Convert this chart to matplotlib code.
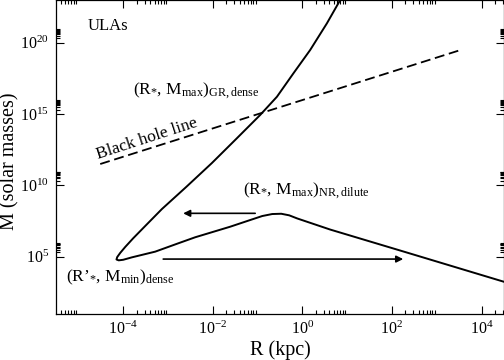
import matplotlib
matplotlib.use("Agg")
import matplotlib.pyplot as plt
from matplotlib.ticker import FixedLocator, LogFormatterSciNotation, NullFormatter

plt.rcParams['font.family'] = ['Liberation Serif', 'DejaVu Serif']
plt.rcParams['mathtext.fontset'] = 'custom'
plt.rcParams['mathtext.rm'] = 'Liberation Serif'
plt.rcParams['mathtext.it'] = 'Liberation Serif:italic'
plt.rcParams['mathtext.bf'] = 'Liberation Serif:bold'

# ---- data ----
# ULA mass-radius curve: dense GR branch (top -> turning point) then dilute branch
R_curve = [7.62, 3.52, 1.49, 0.632, 0.270, 0.114, 0.0333, 9.55e-3, 2.55e-3, 7.31e-4,
           3.10e-4, 1.67e-4, 1.11e-4, 8.57e-5, 7.35e-5, 7.08e-5, 7.94e-5, 1.00e-4,
           1.56e-4, 5.18e-4, 1.71e-3, 4.05e-3, 0.0244, 0.0684, 0.127, 0.212, 0.337,
           0.507, 0.766, 4.18, 152.0, 3.54e4]
M_curve = [1.62e23, 2.29e21, 3.09e19, 7.24e17, 1.62e16, 8.51e14, 1.78e13, 3.63e11, 7.59e9, 2.14e8,
           1.38e7, 1.90e6, 4.68e5, 1.78e5, 9.12e4, 6.17e4, 5.37e4, 5.89e4,
           8.71e4, 2.19e5, 8.51e5, 2.24e6, 1.23e7, 3.63e7, 6.92e7, 9.55e7, 1.00e8,
           7.76e7, 4.68e7, 7.76e6, 2.63e5, 1.51e3]

# Black hole line (M proportional to R)
bh_R = [3.07e-5, 3.01e3]
bh_M = [3.09e11, 2.75e19]

# Arrows: (start R, end R, M)
arrow_left = (0.0883, 2.18e-3, 1.07e8)
arrow_right = (7.82e-4, 178.0, 6.6e4)

x_major_exp = [-4, -2, 0, 2, 4]
x_minor_exp = [-6, -4, -2, 0, 2, 4]
y_major_exp = [5, 10, 15, 20]

# ---- figure ----
fig = plt.figure(figsize=(5.04, 3.6), dpi=100)
ax = fig.add_axes([56/504, 1 - 313.5/360, 448/504, 313.5/360])
ax.set_xscale('log')
ax.set_yscale('log')
ax.set_xlim(10**-5.5, 10**4.5)
ax.set_ylim(1e1, 1e23)

ax.plot(R_curve, M_curve, color='black', lw=1.4, solid_joinstyle='round')
ax.plot(bh_R, bh_M, color='black', lw=1.3, linestyle=(0, (5.5, 2.6)))

for (r0, r1, m) in (arrow_left, arrow_right):
    ax.annotate('', xy=(r1, m), xytext=(r0, m),
                arrowprops=dict(arrowstyle='-|>', color='black', lw=1.2,
                                mutation_scale=10, shrinkA=0, shrinkB=0))

# ticks
xmaj = [10.0**k for k in x_major_exp]
xmin = [m * 10.0**k for k in x_minor_exp for m in range(2, 10)
        if 10**-5.5 <= m * 10.0**k <= 10**4.5]
ymaj = [10.0**k for k in y_major_exp]
ymin = [m * 10.0**k for k in y_major_exp for m in range(2, 10)]
ax.xaxis.set_major_locator(FixedLocator(xmaj))
ax.xaxis.set_minor_locator(FixedLocator(xmin))
ax.yaxis.set_major_locator(FixedLocator(ymaj))
ax.yaxis.set_minor_locator(FixedLocator(ymin))
ax.xaxis.set_major_formatter(LogFormatterSciNotation())
ax.yaxis.set_major_formatter(LogFormatterSciNotation())
ax.xaxis.set_minor_formatter(NullFormatter())
ax.yaxis.set_minor_formatter(NullFormatter())
ax.tick_params(which='both', direction='in', top=True, right=True, width=0.8)
ax.tick_params(which='major', length=6, labelsize=11.5, pad=5)
ax.tick_params(which='minor', length=3)
for s in ax.spines.values():
    s.set_linewidth(0.9)

ax.set_xlabel('R (kpc)', fontsize=14.5)
ax.set_ylabel('M (solar masses)', fontsize=14.5)
ax.xaxis.set_label_coords(0.5, -0.085)
ax.yaxis.set_label_coords(-0.082, 0.486)

# annotations
ax.text(0.0714, 0.917, 'ULAs', transform=ax.transAxes, fontsize=12, ha='left', va='center')
ax.text(0.172, 0.699, r'(R$_{*}$, M$_{\mathrm{max}}$)$_{\mathrm{GR,dense}}$', transform=ax.transAxes,
        fontsize=12.5, ha='left', va='baseline')
ax.text(0.417, 0.380, r'(R$_{*}$, M$_{\mathrm{max}}$)$_{\mathrm{NR,dilute}}$', transform=ax.transAxes,
        fontsize=12.5, ha='left', va='baseline')
ax.text(0.022, 0.104, r'(R’$_{*}$, M$_{\mathrm{min}}$)$_{\mathrm{dense}}$', transform=ax.transAxes,
        fontsize=12.5, ha='left', va='baseline')
ax.text(0.203, 0.558, 'Black hole line', transform=ax.transAxes, fontsize=12.5,
        ha='center', va='center', rotation=18, rotation_mode='anchor')

fig.savefig('out.png', dpi=100)
